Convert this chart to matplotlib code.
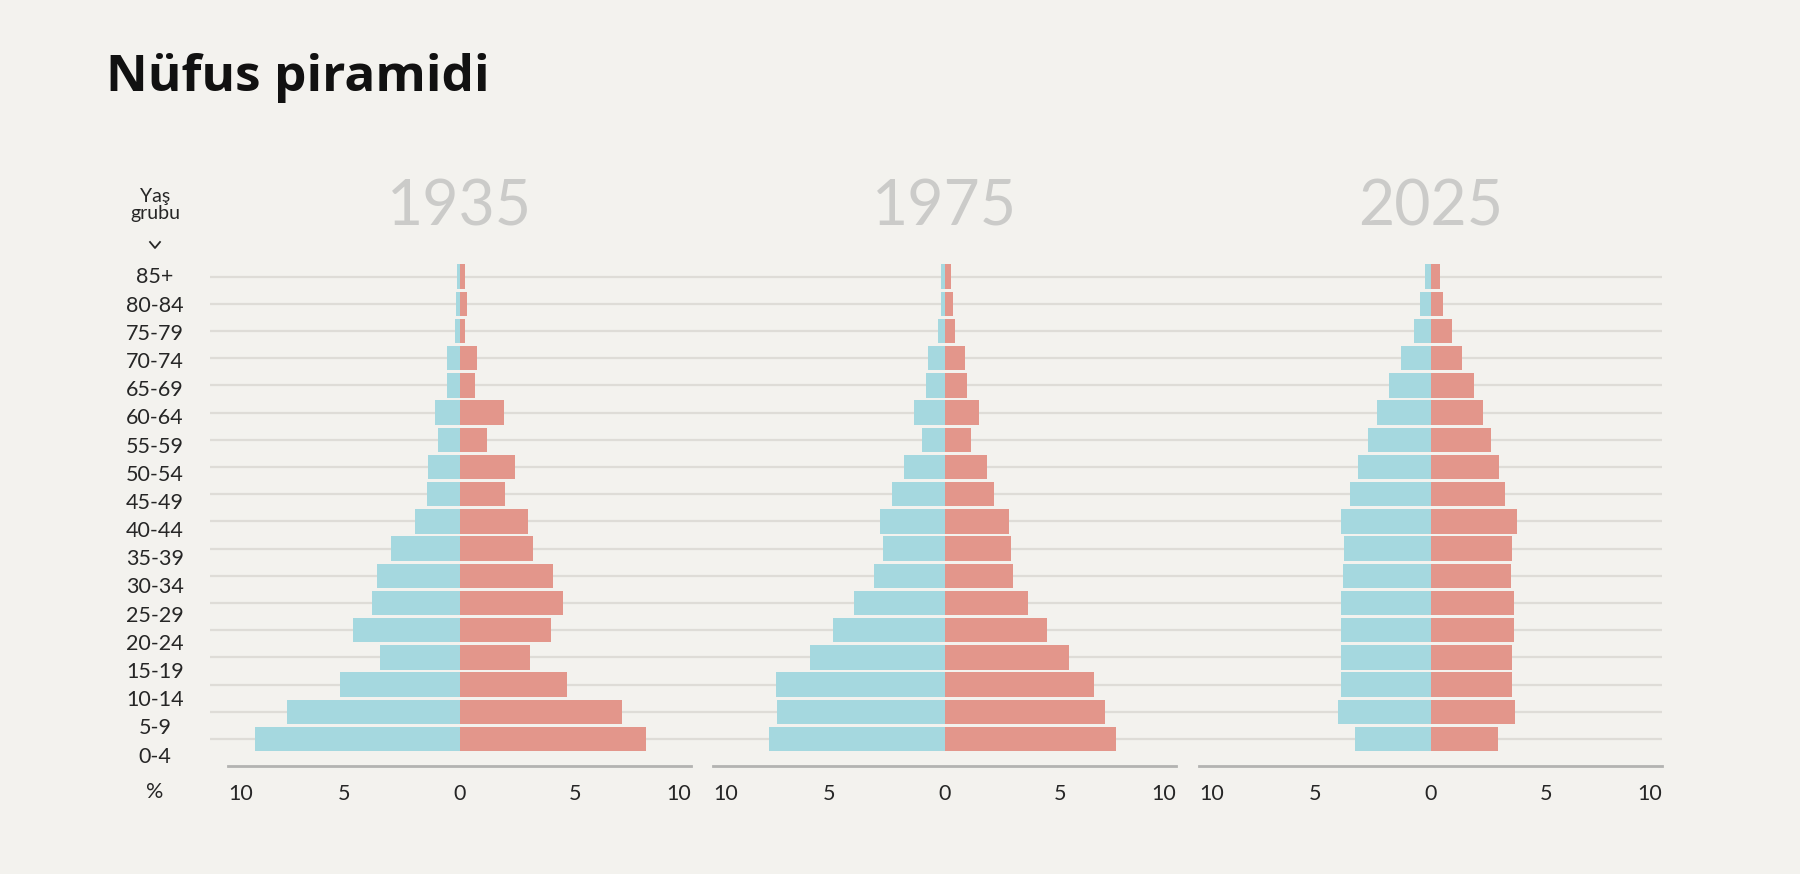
import matplotlib
matplotlib.use("Agg")
import matplotlib.pyplot as plt
from matplotlib.lines import Line2D

# age groups, bottom to top
yas_gruplari = ['0-4', '5-9', '10-14', '15-19', '20-24', '25-29', '30-34', '35-39', '40-44',
                '45-49', '50-54', '55-59', '60-64', '65-69', '70-74', '75-79', '80-84', '85+']
yillar = ['1935', '1975', '2025']

# share of population (%), left side (blue) and right side (red)
erkek_1935 = [8.82, 7.46, 5.15, 3.44, 4.58, 3.80, 3.57, 2.96, 1.91,
              1.41, 1.35, 0.95, 1.07, 0.55, 0.52, 0.19, 0.15, 0.11]
kadin_1935 = [8.05, 7.00, 4.64, 3.03, 3.97, 4.47, 4.05, 3.19, 2.98,
              1.98, 2.39, 1.20, 1.91, 0.65, 0.76, 0.25, 0.34, 0.25]
erkek_1975 = [7.60, 7.23, 7.29, 5.81, 4.83, 3.92, 3.05, 2.67, 2.78,
              2.26, 1.76, 0.99, 1.33, 0.81, 0.70, 0.28, 0.14, 0.17]
kadin_1975 = [7.42, 6.93, 6.47, 5.39, 4.41, 3.60, 2.97, 2.88, 2.78,
              2.12, 1.83, 1.13, 1.47, 0.96, 0.87, 0.44, 0.37, 0.28]
erkek_2025 = [3.25, 4.00, 3.87, 3.87, 3.87, 3.87, 3.77, 3.75, 3.88,
              3.46, 3.14, 2.72, 2.33, 1.80, 1.29, 0.72, 0.46, 0.22]
kadin_2025 = [2.91, 3.64, 3.51, 3.51, 3.61, 3.61, 3.46, 3.52, 3.74,
              3.23, 2.97, 2.61, 2.28, 1.88, 1.35, 0.94, 0.52, 0.43]

erkek = [erkek_1935, erkek_1975, erkek_2025]
kadin = [kadin_1935, kadin_1975, kadin_2025]

tick_pos = [-10, -5, 0, 5, 10]
tick_lbl = ['10', '5', '0', '5', '10']

BG = '#f3f2ee'
BLUE = '#a5d8df'
RED = '#e3968b'
GRID = '#dedcd7'
TXT = '#262626'

plt.rcParams['font.family'] = ['Lato', 'DejaVu Sans']

W, H = 1800, 874
fig = plt.figure(figsize=(18, 8.74), dpi=100, facecolor=BG)


def fx(px):
    return px / W


def fy(py):
    return 1 - py / H


# plot area in pixels (top origin)
top_px, bot_px = 249.4, 766.2
ax_h = (bot_px - top_px) / H
ylim = (-1, 18)
n = len(yas_gruplari)

# background grid lines running across all three panels
bg = fig.add_axes([fx(210), fy(bot_px), fx(1662 - 210), ax_h])
bg.set_xlim(0, 1)
bg.set_ylim(*ylim)
bg.hlines(range(n), 0, 1, color=GRID, lw=1.6)
bg.axis('off')

panel_left = [228, 713, 1199]
panel_w = 463

for i, yil in enumerate(yillar):
    ax = fig.add_axes([fx(panel_left[i]), fy(bot_px), fx(panel_w), ax_h])
    ax.patch.set_alpha(0)
    ax.barh(range(n), [-v for v in erkek[i]], height=0.9, color=BLUE, lw=0)
    ax.barh(range(n), kadin[i], height=0.9, color=RED, lw=0)
    ax.set_xlim(-10, 10)
    ax.set_ylim(*ylim)
    for s in ['top', 'right', 'left']:
        ax.spines[s].set_visible(False)
    ax.spines['bottom'].set_color('#b3b3b1')
    ax.spines['bottom'].set_linewidth(2)
    ax.set_yticks([])
    ax.set_xticks(tick_pos, tick_lbl)
    ax.tick_params(axis='x', length=0, pad=13, labelsize=15.5, labelcolor=TXT)
    labels = ax.get_xticklabels()
    labels[0].set_horizontalalignment('left')
    labels[-1].set_horizontalalignment('right')

    cx = panel_left[i] + panel_w / 2
    fig.text(fx(cx), fy(225), yil, ha='center', va='baseline', fontsize=45,
             color='#cbcbc9')

# age group labels (slightly wider spacing than the bars, as in the original)
lab = fig.add_axes([fx(105), fy(784.7), fx(100), (784.7 - 249.3) / H])
lab.set_xlim(0, 1)
lab.set_ylim(*ylim)
lab.axis('off')
for k, g in enumerate(yas_gruplari):
    lab.text(0.5, k, g, ha='center', va='center', fontsize=15.5, color=TXT)

fig.text(fx(155), fy(792), '%', ha='center', va='center', fontsize=15.5, color=TXT)
fig.text(fx(155), fy(205), 'Yaş\ngrubu', ha='center', va='center', fontsize=14,
         color=TXT, linespacing=0.95)
fig.add_artist(Line2D([fx(150), fx(155), fx(160)], [fy(242), fy(248), fy(242)],
                      color=TXT, lw=1.3, transform=fig.transFigure))

fig.text(fx(106), fy(91), 'Nüfus piramidi', ha='left', va='baseline', fontsize=37,
         fontweight='bold', color='#111111', family=['Open Sans', 'DejaVu Sans'])

fig.savefig('out.png', dpi=100, facecolor=BG)
